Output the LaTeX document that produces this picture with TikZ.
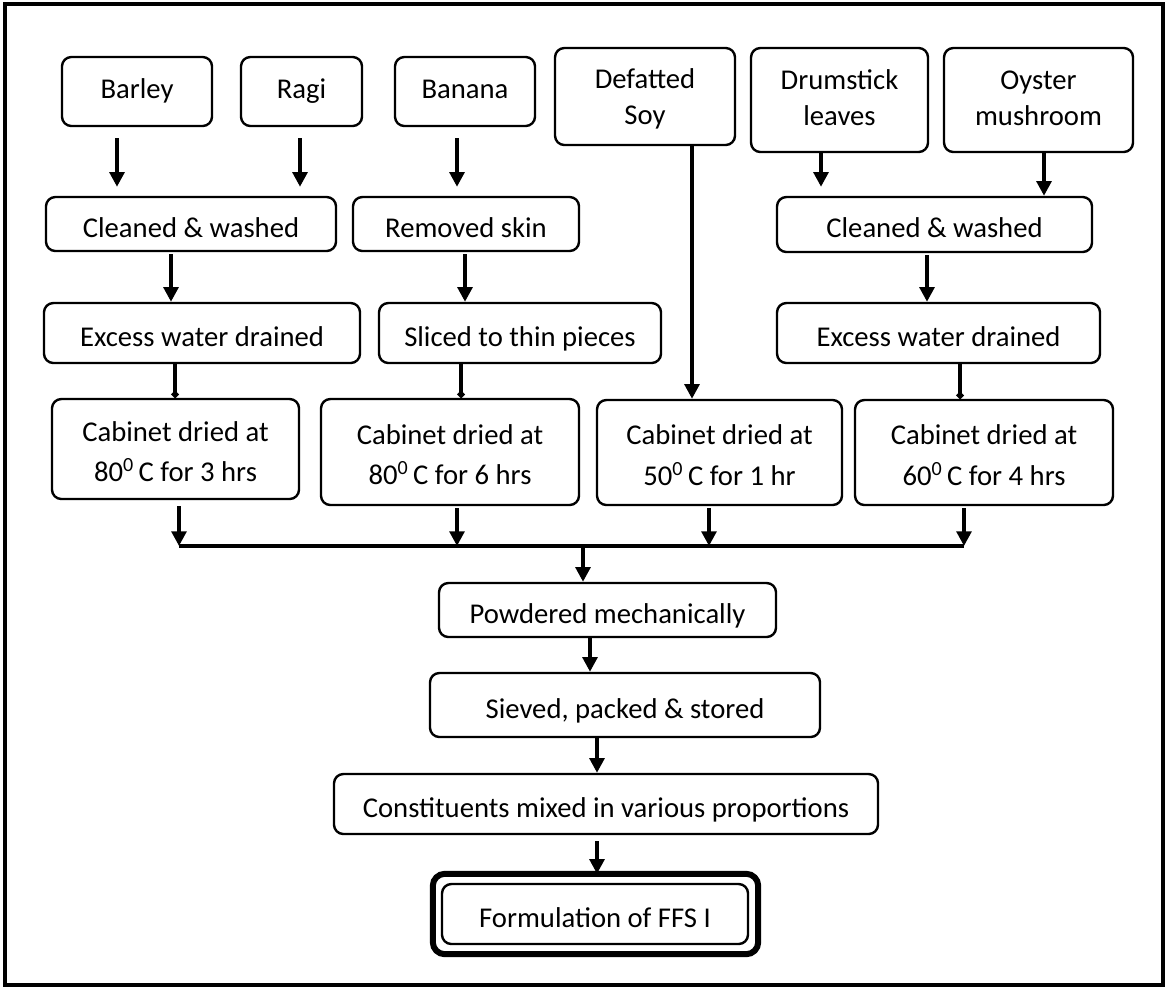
\documentclass[tikz,border=0pt]{standalone}
\usepackage{fontspec}
\setmainfont{Carlito}
\usetikzlibrary{arrows.meta,calc}
\tikzset{
  box/.style={draw, line width=1.8pt, rounded corners=7pt, align=center, inner sep=0pt,
    font=\fontsize{21.5}{27}\selectfont},
  cabbox/.style={box, font=\fontsize{21.5}{30.5}\selectfont},
  arr/.style={line width=2.8pt, -{Triangle[width=11pt,length=11pt]}},
  stub/.style={line width=2.8pt, -{Circle[length=5pt]}},
  busline/.style={line width=2.8pt},
  frame/.style={line width=3.5pt}
}
\newcommand\bx[7]{\node[#7, minimum width={(#4-#2)*0.75pt}, minimum height={(#5-#3)*0.75pt}] (#1) at ({(#2+#4)/2},{(#3+#5)/2}) {#6};}
\newcommand\lo{\rule[-3.5pt]{0pt}{27pt}}
\newcommand\lc{\rule[-6pt]{0pt}{30.5pt}}
\newcommand\ld{\rule[-5.85pt]{0pt}{27pt}}
\begin{document}
\begin{tikzpicture}[x=0.75pt,y=-0.75pt]
\useasboundingbox (0,0) rectangle (1170,990);
\draw[frame] (5,4) rectangle (1163,985);
% top row
\bx{barley}{62}{57}{212}{126}{\strut Barley}{box}
\bx{ragi}{241}{57}{362}{126}{\strut Ragi}{box}
\bx{banana}{395}{57}{535}{126}{\strut Banana}{box}
\bx{soy}{555}{48}{735}{145}{\ld Defatted\\\ld Soy}{box}
\bx{drum}{751}{48}{928}{152}{\strut Drumstick\\\strut leaves}{box}
\bx{oyster}{944}{48}{1133}{152}{\strut Oyster\\\strut mushroom}{box}
% second row
\bx{cw1}{46}{197}{336}{251}{\lo Cleaned \& washed}{box}
\bx{skin}{353}{197}{579}{251}{\lo Removed skin}{box}
\bx{cw2}{777}{197}{1092}{252}{\lo Cleaned \& washed}{box}
% third row
\bx{ex1}{44}{303}{360}{363}{\lo Excess water drained}{box}
\bx{slice}{379}{303}{661}{363}{\lo Sliced to thin pieces}{box}
\bx{ex2}{777}{303}{1100}{363}{\lo Excess water drained}{box}
% cabinet row
\bx{cab1}{52}{399}{299}{499}{\lc Cabinet dried at\\\lc 80\textsuperscript{0}\,C for 3 hrs}{cabbox}
\bx{cab2}{321}{399}{579}{505}{\lc Cabinet dried at\\\lc 80\textsuperscript{0}\,C for 6 hrs}{cabbox}
\bx{cab3}{597}{400}{842}{505}{\lc Cabinet dried at\\\lc 50\textsuperscript{0}\,C for 1 hr}{cabbox}
\bx{cab4}{855}{400}{1113}{505}{\lc Cabinet dried at\\\lc 60\textsuperscript{0}\,C for 4 hrs}{cabbox}
% lower chain
\bx{pow}{439}{583}{776}{637}{\lo Powdered mechanically}{box}
\bx{siev}{430}{673}{820}{737}{\lo Sieved, packed \& stored}{box}
\bx{const}{334}{774}{878}{834}{\lo Constituents mixed in various proportions}{box}
\bx{form}{442}{884}{748}{944}{\lo Formulation of FFS I}{box}
\draw[line width=4.5pt, rounded corners=9pt] ($(form.north west)+(-8,-9)$) rectangle ($(form.south east)+(9,9)$);
% arrows top
\draw[arr] ($(barley.south)+(-20,11)$) -- ($(cw1.north -| barley.south)+(-20,-9)$);
\draw[arr] ($(ragi.south)+(-1.5,11)$) -- ($(cw1.north -| ragi.south)+(-1.5,-9)$);
\draw[arr] ($(banana.south)+(-8,11)$) -- ($(skin.north -| banana.south)+(-8,-9)$);
\draw[arr] ($(soy.south)+(47,0)$) -- ($(cab3.north -| soy.south)+(47,0)$);
\draw[arr] ($(drum.south)+(-18.5,0)$) -- ($(cw2.north -| drum.south)+(-18.5,-9)$);
\draw[arr] ($(oyster.south)+(5.5,0)$) -- ($(cw2.north -| oyster.south)+(5.5,0)$);
% second to third
\draw[arr] ($(cw1.south)+(-20,2)$) -- ($(ex1.north -| cw1.south)+(-20,0)$);
\draw[arr] ($(skin.south)+(-1,2)$) -- ($(slice.north -| skin.south)+(-1,0)$);
\draw[arr] ($(cw2.south)+(-7.5,2)$) -- ($(ex2.north -| cw2.south)+(-7.5,0)$);
% third to cabinet
\draw[stub] ($(ex1.south)+(-27,0)$) -- ($(cab1.north -| ex1.south)+(-27,0)$);
\draw[stub] ($(slice.south)+(-59,0)$) -- ($(cab2.north -| slice.south)+(-59,0)$);
\draw[stub] ($(ex2.south)+(21.5,0)$) -- ($(cab4.north -| ex2.south)+(21.5,0)$);
% bus
\coordinate (b1) at (179,546);
\coordinate (b2) at (457,546);
\coordinate (b3) at (709,546);
\coordinate (b4) at (964,546);
\coordinate (bm) at (583,546);
\draw[arr] (cab1.south -| b1) ++(0,6) -- (b1);
\draw[arr] (cab2.south -| b2) ++(0,2) -- (b2);
\draw[arr] (cab3.south -| b3) ++(0,2) -- (b3);
\draw[arr] (cab4.south -| b4) ++(0,2) -- (b4);
\draw[busline] (b1) -- (b4);
\draw[arr] (bm) -- (pow.north -| bm);
% lower chain
\draw[arr] ($(pow.south)+(-17.5,0)$) -- ($(siev.north -| pow.south)+(-17.5,0)$);
\draw[arr] ($(siev.south)+(-28,0)$) -- ($(const.north -| siev.south)+(-28,0)$);
\draw[arr] ($(const.south)+(-9,6)$) -- ($(form.north -| const.south)+(-9,-9)$);
\end{tikzpicture}
\end{document}
